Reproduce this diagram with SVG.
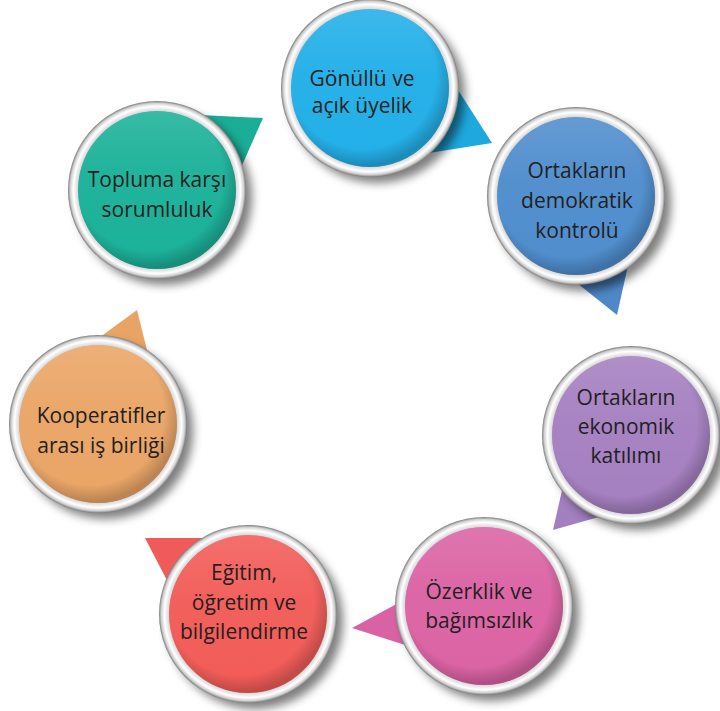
<svg xmlns="http://www.w3.org/2000/svg" width="720" height="711" viewBox="0 0 720 711">
<style>
.t{font-family:"Open Sans","Noto Sans","Liberation Sans",sans-serif;font-size:21px;fill:#231f20;text-anchor:middle}
.ring{fill:url(#ring)}
.sh{fill:#000;opacity:.5;filter:url(#blur)}
</style>
<defs>
<filter id="blur" x="-20%" y="-20%" width="140%" height="140%"><feGaussianBlur stdDeviation="5"/></filter>
<radialGradient id="ring" cx="50%" cy="50%" r="50%">
<stop offset="0.86" stop-color="#6d6d6d"/>
<stop offset="0.89" stop-color="#d9d9d9"/>
<stop offset="0.94" stop-color="#ffffff"/>
<stop offset="0.975" stop-color="#d0d0d0"/>
<stop offset="1" stop-color="#7a7a7a"/>
</radialGradient>
<radialGradient id="inner" cx="45%" cy="42%" r="57%">
<stop offset="0.82" stop-color="#000" stop-opacity="0"/>
<stop offset="1" stop-color="#000" stop-opacity="0.2"/>
</radialGradient>
<linearGradient id="gloss" x1="0" y1="0" x2="0" y2="1">
<stop offset="0" stop-color="#fff" stop-opacity="0.12"/>
<stop offset="0.4" stop-color="#fff" stop-opacity="0.03"/>
<stop offset="1" stop-color="#fff" stop-opacity="0"/>
</linearGradient>
</defs>
<rect width="720" height="711" fill="#fff"/>

<g id="node1">
<polygon points="444,68 492,143 410,156" fill="#1ea9de"/>
<circle class="sh" cx="377" cy="95" r="88"/>
<circle class="ring" cx="370" cy="88" r="89"/>
<circle cx="370" cy="88" r="79" fill="#22afe8"/>
<circle cx="370" cy="88" r="79" fill="url(#gloss)"/>
<circle cx="370" cy="88" r="79" fill="url(#inner)"/>
<text class="t" x="362" y="86">Gönüllü ve</text>
<text class="t" x="362" y="113">açık üyelik</text>
</g>

<g id="node2">
<polygon points="557,267 617,315 633,243" fill="#4f88c8"/>
<circle class="sh" cx="583" cy="203" r="88"/>
<circle class="ring" cx="576" cy="196" r="89"/>
<circle cx="576" cy="196" r="79" fill="#4f8dcd"/>
<circle cx="576" cy="196" r="79" fill="url(#gloss)"/>
<circle cx="576" cy="196" r="79" fill="url(#inner)"/>
<text class="t" x="577" y="178">Ortakların</text>
<text class="t" x="577" y="208">demokratik</text>
<text class="t" x="577" y="238">kontrolü</text>
</g>

<g id="node3">
<polygon points="570,455 553,530 620,511" fill="#a27fbf"/>
<circle class="sh" cx="638" cy="442" r="88"/>
<circle class="ring" cx="631" cy="435" r="89"/>
<circle cx="631" cy="435" r="79" fill="#a580c1"/>
<circle cx="631" cy="435" r="79" fill="url(#gloss)"/>
<circle cx="631" cy="435" r="79" fill="url(#inner)"/>
<text class="t" x="626" y="405">Ortakların</text>
<text class="t" x="626" y="434">ekonomik</text>
<text class="t" x="626" y="463">katılımı</text>
</g>

<g id="node4">
<polygon points="352,628 430,586 430,653" fill="#d862a3"/>
<circle class="sh" cx="491" cy="613" r="88"/>
<circle class="ring" cx="484" cy="606" r="89"/>
<circle cx="484" cy="606" r="79" fill="#db63a4"/>
<circle cx="484" cy="606" r="79" fill="url(#gloss)"/>
<circle cx="484" cy="606" r="79" fill="url(#inner)"/>
<text class="t" x="479" y="599">Özerklik ve</text>
<text class="t" x="479" y="628">bağımsızlık</text>
</g>

<g id="node5">
<polygon points="145,538 230,538 185,615" fill="#f05b59"/>
<circle class="sh" cx="255" cy="621" r="88"/>
<circle class="ring" cx="248" cy="614" r="89"/>
<circle cx="248" cy="614" r="79" fill="#f25c58"/>
<circle cx="248" cy="614" r="79" fill="url(#gloss)"/>
<circle cx="248" cy="614" r="79" fill="url(#inner)"/>
<text class="t" x="244" y="580">Eğitim,</text>
<text class="t" x="244" y="610">öğretim ve</text>
<text class="t" x="244" y="639">bilgilendirme</text>
</g>

<g id="node6">
<polygon points="137,310 70,359 157,390" fill="#e8a465"/>
<circle class="sh" cx="105" cy="431" r="88"/>
<circle class="ring" cx="98" cy="424" r="89"/>
<circle cx="98" cy="424" r="79" fill="#eaa566"/>
<circle cx="98" cy="424" r="79" fill="url(#gloss)"/>
<circle cx="98" cy="424" r="79" fill="url(#inner)"/>
<text class="t" x="101" y="423">Kooperatifler</text>
<text class="t" x="101" y="453">arası iş birliği</text>
</g>

<g id="node7">
<polygon points="263,118 180,114 225,204" fill="#1aae96"/>
<circle class="sh" cx="164" cy="197" r="88"/>
<circle class="ring" cx="157" cy="190" r="89"/>
<circle cx="157" cy="190" r="79" fill="#1bb199"/>
<circle cx="157" cy="190" r="79" fill="url(#gloss)"/>
<circle cx="157" cy="190" r="79" fill="url(#inner)"/>
<text class="t" x="157" y="187">Topluma karşı</text>
<text class="t" x="157" y="217">sorumluluk</text>
</g>

<g id="connectors"></g>
</svg>
